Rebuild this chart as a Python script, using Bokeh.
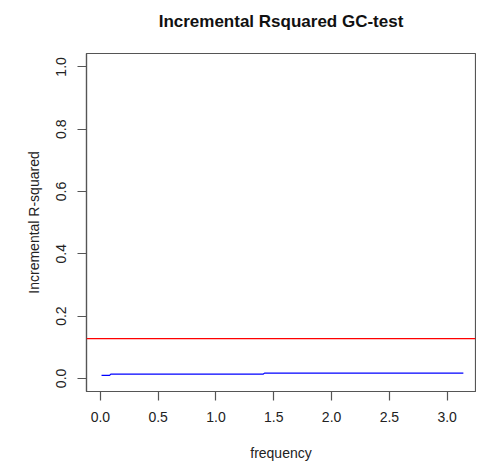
from bokeh.plotting import figure
from bokeh.models import Span, FixedTicker, PrintfTickFormatter, Range1d, Title
from bokeh.embed import file_html
from bokeh.resources import INLINE

# data
freq = [0.01, 0.08, 0.09, 1.41, 1.42, 3.14]
incr_r2 = [0.010, 0.010, 0.014, 0.014, 0.017, 0.017]
threshold = 0.128
x_ticks = [0.0, 0.5, 1.0, 1.5, 2.0, 2.5, 3.0]
y_ticks = [0.0, 0.2, 0.4, 0.6, 0.8, 1.0]

FONT = "Liberation Sans"
AX = "#555555"
TXT = "#222222"

p = figure(width=476, height=463, output_backend="svg", toolbar_location=None,
           x_range=Range1d(-0.12, 3.245), y_range=Range1d(-0.042, 1.043),
           title="Incremental Rsquared GC-test",
           x_axis_label="frequency", y_axis_label="Incremental R-squared",
           min_border_left=86, min_border_right=1, min_border_top=53, min_border_bottom=72)

p.title.align = "center"
p.title.text_font = FONT
p.title.text_font_size = "17px"
p.title.text_font_style = "bold"
p.title.text_color = "#111111"
p.title.standoff = 10

# blank spacer between the title and the frame
p.add_layout(Title(text=" ", text_font_size="4px", standoff=11), "above")

p.grid.visible = False
p.outline_line_color = AX
p.outline_line_width = 1.2
p.background_fill_color = "white"
p.border_fill_color = "white"

for ax in (p.xaxis[0], p.yaxis[0]):
    ax.axis_line_color = AX
    ax.axis_line_width = 1.2
    ax.major_tick_line_color = AX
    ax.major_tick_line_width = 1.2
    ax.major_tick_out = 9
    ax.major_tick_in = 0
    ax.minor_tick_line_color = None
    ax.major_label_text_font = FONT
    ax.major_label_text_font_size = "14px"
    ax.major_label_text_color = TXT
    ax.axis_label_text_font = FONT
    ax.axis_label_text_font_size = "14px"
    ax.axis_label_text_font_style = "normal"
    ax.axis_label_text_color = TXT
    ax.formatter = PrintfTickFormatter(format="%.1f")

p.xaxis[0].ticker = FixedTicker(ticks=x_ticks)
p.yaxis[0].ticker = FixedTicker(ticks=y_ticks)
p.xaxis[0].major_label_standoff = 11
p.xaxis[0].axis_label_standoff = 20
p.yaxis[0].major_label_orientation = "vertical"
p.yaxis[0].major_label_standoff = 11
p.yaxis[0].axis_label_standoff = 12

p.add_layout(Span(location=threshold, dimension="width", line_color="#ff0000", line_width=1.2))
p.line(freq, incr_r2, line_color="#0000ff", line_width=1.2)

open("out.html", "w").write(file_html(p, INLINE))
